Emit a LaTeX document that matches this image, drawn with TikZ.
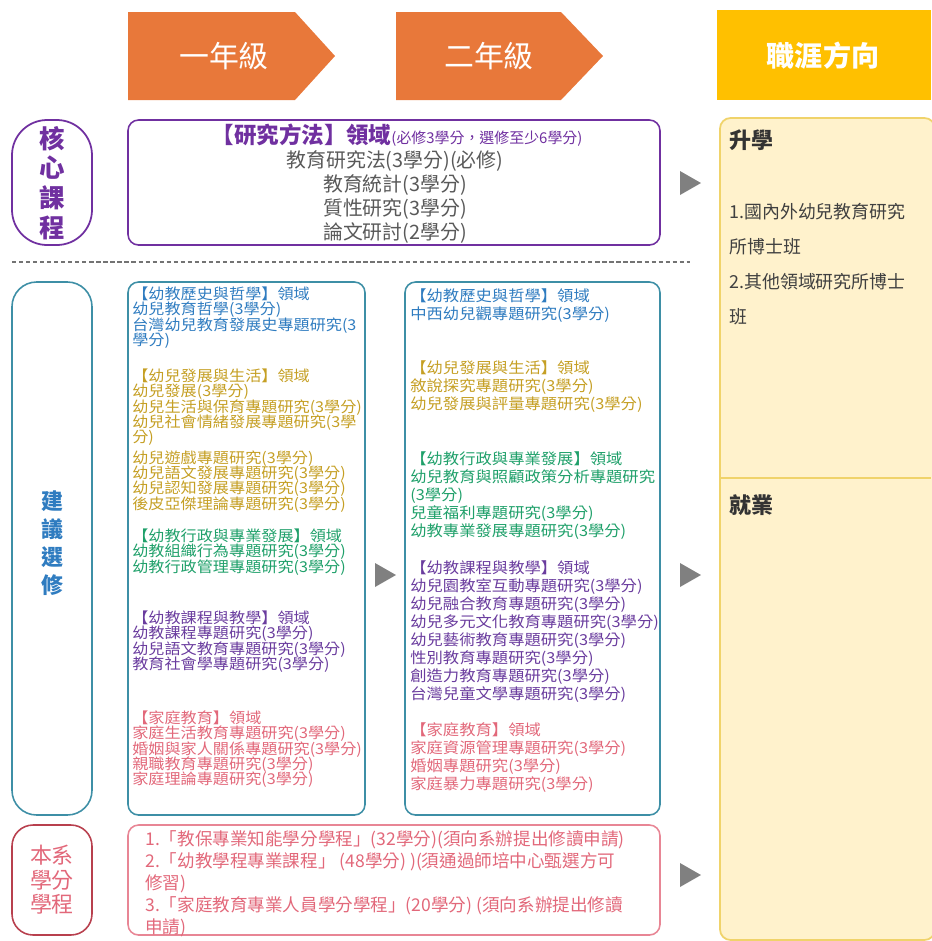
\documentclass[tikz,border=0pt]{standalone}
\usepackage{fontspec}
\usepackage{xcolor}
\setmainfont{Noto Sans CJK TC}
\newfontfamily\widecjk[FakeStretch=1.08]{Noto Sans CJK TC}
\newcommand\tightlines{\setlength{\lineskiplimit}{-10pt}}

\definecolor{hdrorange}{HTML}{E8783A}
\definecolor{hdryellow}{HTML}{FFC000}
\definecolor{careerfill}{HTML}{FFF2CC}
\definecolor{careerline}{HTML}{F0D36A}
\definecolor{corepurple}{HTML}{7030A0}
\definecolor{coregray}{HTML}{595959}
\definecolor{boxteal}{HTML}{3E8FA6}
\definecolor{histblue}{HTML}{2F7CC0}
\definecolor{devgold}{HTML}{C59F24}
\definecolor{admgreen}{HTML}{1FA06A}
\definecolor{curpurple}{HTML}{6A3C9E}
\definecolor{fampink}{HTML}{E2687A}
\definecolor{progred}{HTML}{B8404E}
\definecolor{arrowgray}{HTML}{808080}

\tikzset{
  hdrtext/.style={text=white,inner sep=0pt,font=\fontsize{17}{17}\selectfont},
  pilltext/.style={align=center,inner sep=0pt},
  crsbox/.style={draw=boxteal,line width=0.9pt,rounded corners=6pt},
  crsA/.style={anchor=north west,align=left,inner sep=0pt,font=\widecjk\fontsize{8.5}{8.7}\selectfont\tightlines},
  crsB/.style={anchor=north west,align=left,inner sep=0pt,font=\widecjk\fontsize{8.6}{10.2}\selectfont},
  tri/.style={fill=arrowgray},
}

\begin{document}
\begin{tikzpicture}[x=0.02cm,y=-0.02cm]
\useasboundingbox (0,0) rectangle (931,941);

% Header arrows
\fill[hdrorange] (128,12) -- (295,12) -- (335,56) -- (295,100) -- (128,100) -- cycle;
\fill[hdrorange] (396,12) -- (561,12) -- (603,56) -- (561,100) -- (396,100) -- cycle;
\fill[hdryellow] (717,10) rectangle (931,100);
\node[hdrtext] (yearone) at (224,56) {一年級};
\node[hdrtext] (yeartwo) at (489,56) {二年級};
\node[hdrtext,font=\bfseries\fontsize{16}{16}\selectfont] (career) at (823,56) {職涯方向};

% Career column
\draw[careerline,fill=careerfill,line width=1pt,rounded corners=6pt] (720,118) rectangle (935,940);
\draw[careerline,line width=0.8pt] (720,478) -- (931,478);
\node[anchor=west,inner sep=0pt,text=black!80,font=\bfseries\fontsize{12.5}{12.5}\selectfont] (study) at (729,140) {升學};
\node[anchor=north west,align=left,inner sep=0pt,text=black!75,font=\fontsize{10.2}{19.8}\selectfont] (studylist) at (729,203) {1.國內外幼兒教育研究\\所博士班\\2.其他領域研究所博士\\班};
\node[anchor=west,inner sep=0pt,text=black!80,font=\bfseries\fontsize{12.5}{12.5}\selectfont] (work) at (729,505) {就業};

% Core courses row
\draw[corepurple,line width=1pt,rounded corners=20pt] (12,120) rectangle (92,245);
\node[pilltext,text=corepurple,font=\bfseries\fontsize{14.5}{17}\selectfont] (corepill) at (52,183) {核\\心\\課\\程};
\draw[corepurple,line width=0.9pt,rounded corners=6pt] (128,120) rectangle (660,245);
\node[inner sep=0pt,text=corepurple] (corehead) at (397,135)
  {{\bfseries\fontsize{12.8}{12.8}\selectfont 【研究方法】領域}{\fontsize{8.5}{8.5}\selectfont(必修3學分，選修至少6學分)}};
\node[anchor=north,align=center,inner sep=0pt,text=coregray,font=\fontsize{11.3}{13.6}\selectfont] (corelist) at (395,150.5)
  {教育研究法(3學分)(必修)\\教育統計(3學分)\\質性研究(3學分)\\論文研討(2學分)};
\fill[tri] (680,171) -- (701,183) -- (680,195) -- cycle;

\draw[black!55,line width=0.6pt,dash pattern=on 2.4pt off 1.6pt] (12,262) -- (690,262);

% Elective row
\draw[boxteal,line width=0.9pt,rounded corners=14pt] (12,282) rectangle (92,815);
\node[pilltext,text=histblue,font=\bfseries\fontsize{12.5}{16}\selectfont] (electpill) at (52,543) {建\\議\\選\\修};
\draw[crsbox] (128,282) rectangle (365,815);
\draw[crsbox] (405,282) rectangle (660,815);
% Year one
\node[crsA,text=histblue] (onehist) at (132,286.5)
  {【幼教歷史與哲學】領域\\幼兒教育哲學(3學分)\\台灣幼兒教育發展史專題研究(3\\學分)};
\node[crsA,text=devgold] (onedev) at (132,368.5)
  {【幼兒發展與生活】領域\\幼兒發展(3學分)\\幼兒生活與保育專題研究(3學分)\\幼兒社會情緒發展專題研究(3學\\分)\\[3pt]
   幼兒遊戲專題研究(3學分)\\幼兒語文發展專題研究(3學分)\\幼兒認知發展專題研究(3學分)\\後皮亞傑理論專題研究(3學分)};
\node[crsA,text=admgreen] (oneadm) at (132,528.5)
  {【幼教行政與專業發展】領域\\幼教組織行為專題研究(3學分)\\幼教行政管理專題研究(3學分)};
\node[crsA,text=curpurple] (onecur) at (132,610.5)
  {【幼教課程與教學】領域\\幼教課程專題研究(3學分)\\幼兒語文教育專題研究(3學分)\\教育社會學專題研究(3學分)};
\node[crsA,text=fampink] (onefam) at (132,710.5)
  {【家庭教育】領域\\家庭生活教育專題研究(3學分)\\婚姻與家人關係專題研究(3學分)\\親職教育專題研究(3學分)\\家庭理論專題研究(3學分)};
% Year two
\node[crsB,text=histblue] (twohist) at (410,288.5)
  {【幼教歷史與哲學】領域\\中西幼兒觀專題研究(3學分)};
\node[crsB,text=devgold] (twodev) at (410,360.5)
  {【幼兒發展與生活】領域\\敘說探究專題研究(3學分)\\幼兒發展與評量專題研究(3學分)};
\node[crsB,text=admgreen] (twoadm) at (410,451.5)
  {【幼教行政與專業發展】領域\\幼兒教育與照顧政策分析專題研究\\(3學分)\\兒童福利專題研究(3學分)\\幼教專業發展專題研究(3學分)};
\node[crsB,text=curpurple] (twocur) at (410,560.5)
  {【幼教課程與教學】領域\\幼兒園教室互動專題研究(3學分)\\幼兒融合教育專題研究(3學分)\\幼兒多元文化教育專題研究(3學分)\\幼兒藝術教育專題研究(3學分)\\性別教育專題研究(3學分)\\創造力教育專題研究(3學分)\\台灣兒童文學專題研究(3學分)};
\node[crsB,text=fampink] (twofam) at (410,722.5)
  {【家庭教育】領域\\家庭資源管理專題研究(3學分)\\婚姻專題研究(3學分)\\家庭暴力專題研究(3學分)};
\fill[tri] (375,563) -- (396,575) -- (375,587) -- cycle;
\fill[tri] (680,563) -- (701,575) -- (680,587) -- cycle;

% Program row
\draw[progred,line width=0.9pt,rounded corners=12pt] (12,825) rectangle (92,935);
\node[pilltext,text=fampink,font=\fontsize{12.5}{14}\selectfont] (progpill) at (52,880) {本系\\學分\\學程};
\draw[fampink!80,line width=0.9pt,rounded corners=6pt] (128,825) rectangle (660,935);
\node[anchor=north west,align=left,inner sep=0pt,text=fampink,font=\fontsize{10}{12.5}\selectfont] (proglist) at (145,830)
  {1.「教保專業知能學分學程」(32學分)(須向系辦提出修讀申請)\\2.「幼教學程專業課程」 (48學分) )(須通過師培中心甄選方可\\修習)\\3.「家庭教育專業人員學分學程」(20學分) (須向系辦提出修讀\\申請)};
\fill[tri] (680,863) -- (701,875) -- (680,887) -- cycle;

\end{tikzpicture}
\end{document}
